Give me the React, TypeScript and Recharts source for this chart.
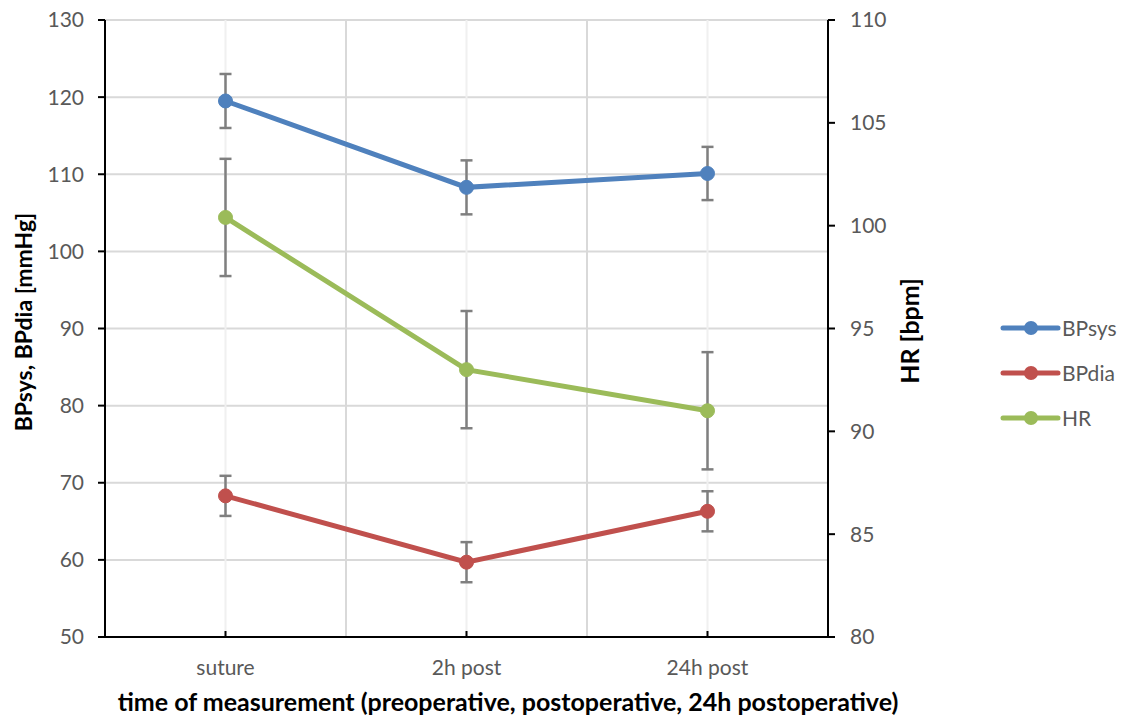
import React from 'react';
import { ComposedChart, Line, XAxis, YAxis, CartesianGrid, ErrorBar, Legend } from 'recharts';

const categories = ['suture', '2h post', '24h post'];
const bpSys = [119.5, 108.3, 110.1];
const bpSysErr = [3.5, 3.5, 3.45];
const bpDia = [68.3, 59.7, 66.3];
const bpDiaErr = [2.6, 2.6, 2.6];
const hr = [100.4, 93.0, 91.0];
const hrErr = [2.85, 2.85, 2.85];

const leftTicks = [50, 60, 70, 80, 90, 100, 110, 120, 130];
const rightTicks = [80, 85, 90, 95, 100, 105, 110];

const seriesInfo = [
  { key: 'BPsys', color: '#4f81bd' },
  { key: 'BPdia', color: '#c0504d' },
  { key: 'HR', color: '#9bbb59' },
];

const data = categories.map((c, i) => ({
  cat: c,
  BPsys: bpSys[i],
  BPsysErr: bpSysErr[i],
  BPdia: bpDia[i],
  BPdiaErr: bpDiaErr[i],
  HR: hr[i],
  HRErr: hrErr[i],
}));

const FONT = 'Lato, "Open Sans", sans-serif';
const TICK_COLOR = '#595959';

const XTick = (props: any) => {
  const { x, y, payload } = props;
  return (
    <g>
      <line x1={x} y1={y} x2={x} y2={y - 6} stroke="#000" strokeWidth={2} />
      <text x={x} y={y + 38} textAnchor="middle" fill={TICK_COLOR} fontSize={21} fontFamily={FONT}>
        {payload.value}
      </text>
    </g>
  );
};

// boundaries between categories, derived from the chart's plot offset
const boundaryGen = (props: any) => {
  const { offset } = props;
  const n = categories.length;
  const out: number[] = [];
  for (let i = 1; i < n; i++) out.push(offset.left + (offset.width * i) / n);
  return out;
};

const LegendContent = () => (
  <div style={{ fontFamily: FONT }}>
    {seriesInfo.map((s) => (
      <div key={s.key} style={{ display: 'flex', alignItems: 'center', height: 45 }}>
        <svg width={62} height={20} style={{ display: 'block' }}>
          <line x1={3} y1={10} x2={58} y2={10} stroke={s.color} strokeWidth={5} strokeLinecap="round" />
          <circle cx={31} cy={10} r={7} fill={s.color} />
        </svg>
        <span style={{ fontSize: 21, color: TICK_COLOR, marginLeft: 0 }}>{s.key}</span>
      </div>
    ))}
  </div>
);

export default function App() {
  return (
    <div style={{ position: 'absolute', left: 0, top: 0, width: 1125, height: 719, background: '#fff' }}>
      <ComposedChart
        width={1125}
        height={719}
        data={data}
        margin={{ top: 20, right: 237, bottom: 0, left: 0 }}
      >
        <CartesianGrid yAxisId="left" vertical={false} horizontal={true} stroke="#d9d9d9" strokeWidth={2} />
        <CartesianGrid yAxisId="left" vertical={true} horizontal={false} stroke="#f0f0f0" strokeWidth={2} />
        <CartesianGrid yAxisId="left" vertical={true} horizontal={false} stroke="#d9d9d9" strokeWidth={2} verticalCoordinatesGenerator={boundaryGen} />
        <XAxis
          dataKey="cat"
          scale="band"
          height={82}
          axisLine={{ stroke: '#000', strokeWidth: 2 }}
          tickLine={false}
          tickSize={0}
          tickMargin={0}
          tick={<XTick />}
          interval={0}
          label={{
            content: () => (
              <text x={508} y={711} textAnchor="middle" fontFamily={FONT} fontWeight="bold" fontSize={25} fill="#000">
                time of measurement (preoperative, postoperative, 24h postoperative)
              </text>
            ),
          }}
        />
        <YAxis
          yAxisId="left"
          width={105}
          domain={[50, 130]}
          ticks={leftTicks}
          interval={0}
          allowDataOverflow
          axisLine={{ stroke: '#000', strokeWidth: 2 }}
          tickLine={{ stroke: '#000', strokeWidth: 2 }}
          tickSize={7}
          tickMargin={14}
          tick={{ fill: TICK_COLOR, fontSize: 21, fontFamily: FONT }}
          label={{
            content: () => (
              <text x={26} y={322} textAnchor="middle" transform="rotate(-90 26 322)" dominantBaseline="middle" fontFamily={FONT} fontWeight="bold" fontSize={23} fill="#000">
                BPsys, BPdia [mmHg]
              </text>
            ),
          }}
        />
        <YAxis
          yAxisId="right"
          orientation="right"
          width={60}
          domain={[80, 110]}
          ticks={rightTicks}
          interval={0}
          allowDataOverflow
          axisLine={{ stroke: '#000', strokeWidth: 2 }}
          tickLine={{ stroke: '#000', strokeWidth: 2 }}
          tickSize={7}
          tickMargin={15}
          tick={{ fill: TICK_COLOR, fontSize: 21, fontFamily: FONT }}
          label={{
            content: () => (
              <text x={913} y={331} textAnchor="middle" transform="rotate(-90 913 331)" dominantBaseline="middle" fontFamily={FONT} fontWeight="bold" fontSize={25} fill="#000">
                HR [bpm]
              </text>
            ),
          }}
        />
        <Line yAxisId="left" dataKey="BPsys" stroke="#4f81bd" strokeWidth={5} dot={{ r: 7, fill: '#4f81bd', stroke: '#4f81bd', strokeWidth: 1 }} isAnimationActive={false}>
          <ErrorBar dataKey="BPsysErr" width={6} stroke="#7f7f7f" strokeWidth={2.5} direction="y" />
        </Line>
        <Line yAxisId="left" dataKey="BPdia" stroke="#c0504d" strokeWidth={5} dot={{ r: 7, fill: '#c0504d', stroke: '#c0504d', strokeWidth: 1 }} isAnimationActive={false}>
          <ErrorBar dataKey="BPdiaErr" width={6} stroke="#7f7f7f" strokeWidth={2.5} direction="y" />
        </Line>
        <Line yAxisId="right" dataKey="HR" stroke="#9bbb59" strokeWidth={5} dot={{ r: 7, fill: '#9bbb59', stroke: '#9bbb59', strokeWidth: 1 }} isAnimationActive={false}>
          <ErrorBar dataKey="HRErr" width={6} stroke="#7f7f7f" strokeWidth={2.5} direction="y" />
        </Line>
        <Legend
          layout="vertical"
          align="center"
          verticalAlign="middle"
          content={<LegendContent />}
          wrapperStyle={{ position: 'absolute', left: 1000, top: 305, width: 125, height: 140 }}
        />
      </ComposedChart>
    </div>
  );
}
